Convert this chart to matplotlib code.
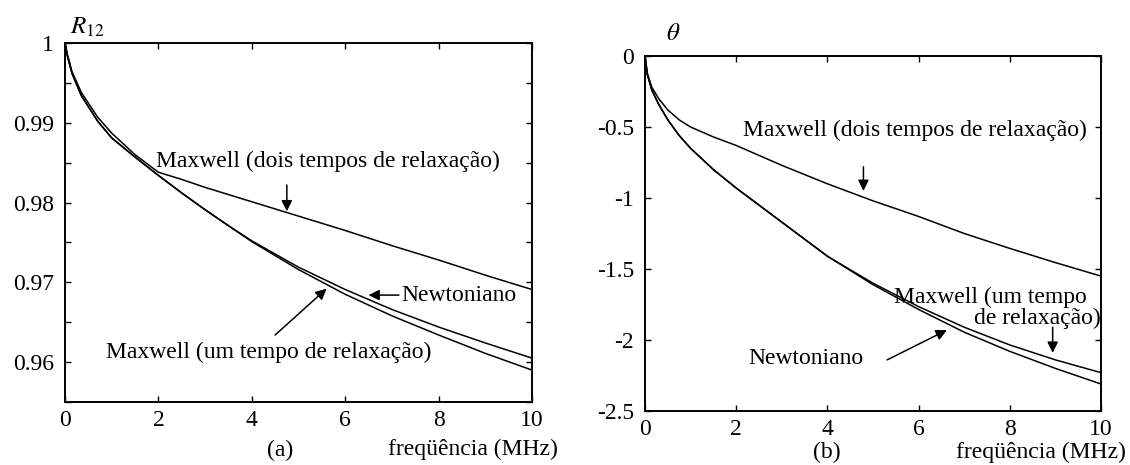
import matplotlib
matplotlib.use("Agg")
import matplotlib.pyplot as plt

plt.rcParams["font.family"] = ["Liberation Serif", "DejaVu Serif"]
plt.rcParams["font.size"] = 17
plt.rcParams["mathtext.fontset"] = "stix"

# (a) modulo R12 x frequencia
freq_a = [0, 0.05, 0.15, 0.35, 0.7, 1, 1.5, 2, 2.5, 3, 3.5, 4, 5, 6, 7, 8, 9, 10]
r12_newt = [1.0, 0.9984, 0.9962, 0.9934, 0.9902, 0.9881, 0.9857, 0.9834, 0.9812,
            0.9791, 0.9771, 0.9752, 0.9719, 0.9691, 0.9666, 0.9644, 0.9624, 0.9605]
r12_max1 = [1.0, 0.9984, 0.9962, 0.9934, 0.9902, 0.9881, 0.9857, 0.9834, 0.9812,
            0.9791, 0.9771, 0.9751, 0.9716, 0.9685, 0.9658, 0.9634, 0.9611, 0.9590]
r12_max2 = [1.0, 0.9986, 0.9964, 0.9938, 0.9907, 0.9887, 0.9860, 0.9838, 0.9829,
            0.9819, 0.9810, 0.9801, 0.9783, 0.9765, 0.9746, 0.9728, 0.9709, 0.9691]

# (b) fase theta x frequencia
freq_b = [0, 0.05, 0.15, 0.3, 0.5, 0.75, 1, 1.5, 2, 2.5, 3, 3.5, 4, 5, 6, 7, 8, 9, 10]
th_newt = [0, -0.13, -0.24, -0.34, -0.45, -0.56, -0.65, -0.80, -0.93, -1.05, -1.17,
           -1.29, -1.41, -1.61, -1.785, -1.945, -2.08, -2.20, -2.31]
th_max1 = [0, -0.13, -0.24, -0.34, -0.45, -0.56, -0.65, -0.80, -0.93, -1.05, -1.17,
           -1.29, -1.41, -1.60, -1.765, -1.91, -2.035, -2.14, -2.23]
th_max2 = [0, -0.12, -0.22, -0.30, -0.38, -0.45, -0.50, -0.57, -0.63, -0.70, -0.77,
           -0.835, -0.90, -1.02, -1.13, -1.25, -1.355, -1.455, -1.55]

xticks = [0, 2, 4, 6, 8, 10]
xticklabels = ["0", "2", "4", "6", "8", "10"]
yticks_a = [0.96, 0.97, 0.98, 0.99, 1.0]
yticklabels_a = ["0.96", "0.97", "0.98", "0.99", "1"]
yminor_a = [0.955, 0.965, 0.975, 0.985, 0.995]
yticks_b = [-2.5, -2, -1.5, -1, -0.5, 0]
yticklabels_b = ["-2.5", "-2", "-1.5", "-1", "-0.5", "0"]

W, H = 1130, 465
fig = plt.figure(figsize=(W / 100, H / 100), dpi=100)
ax1 = fig.add_axes([65 / W, 1 - 402 / H, 467 / W, 359 / H])
ax2 = fig.add_axes([645 / W, 1 - 411 / H, 456 / W, 355 / H])

line_kw = dict(color="black", lw=1.1)
arrow_kw = dict(arrowstyle="-|>", color="black", lw=1.1, mutation_scale=16,
                shrinkA=0, shrinkB=0)


def style(ax):
    ax.set_xlim(0, 10)
    ax.set_xticks(xticks)
    ax.set_xticklabels(xticklabels)
    ax.tick_params(which="both", direction="in", top=True, right=True,
                   length=4, width=1)
    ax.tick_params(axis="x", pad=6)
    ax.tick_params(axis="y", pad=8)
    for sp in ax.spines.values():
        sp.set_linewidth(1.4)


ax1.plot(freq_a, r12_newt, **line_kw)
ax1.plot(freq_a, r12_max1, **line_kw)
ax1.plot(freq_a, r12_max2, **line_kw)
style(ax1)
ax1.set_ylim(0.955, 1.0)
ax1.set_yticks(yticks_a)
ax1.set_yticklabels(yticklabels_a)
ax1.set_yticks(yminor_a, minor=True)

ax1.text(1.95, 0.9851, "Maxwell (dois tempos de relaxação)", va="center")
ax1.annotate("", xy=(4.75, 0.9789), xytext=(4.75, 0.9822), arrowprops=arrow_kw)
ax1.text(7.2, 0.9684, "Newtoniano", va="center")
ax1.annotate("", xy=(6.5, 0.9684), xytext=(7.15, 0.9684), arrowprops=arrow_kw)
ax1.text(0.88, 0.9612, "Maxwell (um tempo de relaxação)", va="center")
ax1.annotate("", xy=(5.6, 0.9692), xytext=(4.5, 0.9634), arrowprops=arrow_kw)
ax1.text(0.1, 1.0005, r"$R_{12}$", va="bottom", fontsize=18)

ax2.plot(freq_b, th_newt, **line_kw)
ax2.plot(freq_b, th_max1, **line_kw)
ax2.plot(freq_b, th_max2, **line_kw)
style(ax2)
ax2.set_ylim(-2.5, 0)
ax2.set_yticks(yticks_b)
ax2.set_yticklabels(yticklabels_b)

ax2.text(2.16, -0.525, "Maxwell (dois tempos de relaxação)", va="center")
ax2.annotate("", xy=(4.79, -0.95), xytext=(4.79, -0.78), arrowprops=arrow_kw)
ax2.text(5.47, -1.70, "Maxwell (um tempo", va="center")
ax2.text(7.22, -1.85, "de relaxação)", va="center")
ax2.annotate("", xy=(8.94, -2.09), xytext=(8.94, -1.91), arrowprops=arrow_kw)
ax2.text(2.27, -2.13, "Newtoniano", va="center")
ax2.annotate("", xy=(6.62, -1.93), xytext=(5.31, -2.14), arrowprops=arrow_kw)
ax2.text(0.45, 0.08, r"$\theta$", va="bottom", fontsize=18)

fig.text(280 / W, 1 - 450 / H, "(a)", ha="center", va="center")
fig.text(558 / W, 1 - 449 / H, "freqüência (MHz)", ha="right", va="center")
fig.text(827 / W, 1 - 452 / H, "(b)", ha="center", va="center")
fig.text(1126 / W, 1 - 452 / H, "freqüência (MHz)", ha="right", va="center")

fig.savefig("out.png", dpi=100)
